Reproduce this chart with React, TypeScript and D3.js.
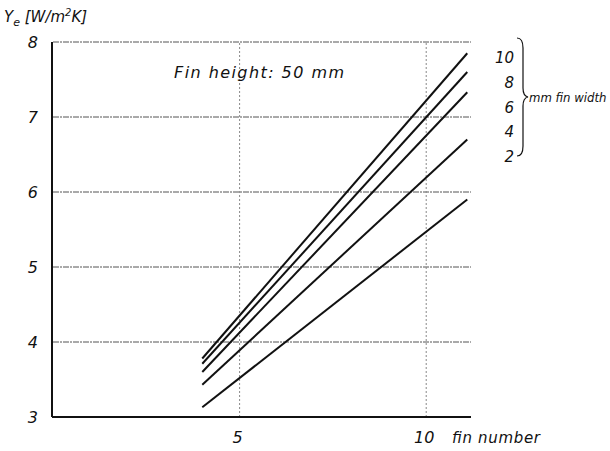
import React from "react";
import * as d3 from "d3";

const finWidths = [10, 8, 6, 4, 2];
const xStart = [4, 4, 4, 4, 4];
const xEnd = [11.1, 11.1, 11.1, 11.1, 11.1];
const yStartVals = [3.78, 3.71, 3.6, 3.43, 3.13];
const yEndVals = [7.85, 7.6, 7.33, 6.7, 5.9];
const yTicks = [3, 4, 5, 6, 7, 8];
const xTicks = [5, 10];
const labelYVals = [7.8, 7.47, 7.13, 6.82, 6.48];

const W = 610, H = 451;

export default function App() {
  const x = d3.scaleLinear().domain([0, 11.2]).range([53, 471]);
  const y = d3.scaleLinear().domain([3, 8]).range([417, 42]);
  const line = d3.line<[number, number]>().x(d => x(d[0])).y(d => y(d[1]));
  const font = "'DejaVu Sans', sans-serif";
  const cfont = "'DejaVu Sans Condensed', 'DejaVu Sans', sans-serif";
  const ink = "#111";
  return (
    <svg width={W} height={H} style={{ position: "absolute", left: 0, top: 0, background: "#fff" }}>
      <rect width={W} height={H} fill="#fff" />
      {yTicks.filter(t => t > 3).map(t => (
        <line key={"h" + t} x1={x(0)} x2={x(11.2)} y1={y(t)} y2={y(t)} stroke="#555" strokeWidth={1} strokeDasharray="6 1 2 1" />
      ))}
      {xTicks.map(t => (
        <line key={"v" + t} x1={x(t)} x2={x(t)} y1={y(3)} y2={y(8)} stroke="#888" strokeWidth={1} strokeDasharray="2 2" />
      ))}
      <line x1={x(0) - 1} x2={x(0) - 1} y1={y(8)} y2={y(3)} stroke={ink} strokeWidth={2} />
      <line x1={x(0) - 1} x2={x(11.2)} y1={y(3)} y2={y(3)} stroke={ink} strokeWidth={2.2} />
      {yTicks.map(t => (
        <text key={"yl" + t} x={38} y={y(t) + 6} fontFamily={font} fontStyle="italic" fontSize={16} fill={ink} textAnchor="end">{t}</text>
      ))}
      {xTicks.map(t => (
        <text key={"xl" + t} x={x(t) - 2} y={443} fontFamily={font} fontStyle="italic" fontSize={16} fill={ink} textAnchor="middle">{t}</text>
      ))}
      <text x={452} y={443} fontFamily={font} fontStyle="italic" fontSize={15} fill={ink} textLength={88} lengthAdjust="spacing">fin number</text>
      <text x={4} y={22} fontFamily={font} fontStyle="italic" fontSize={15} fill={ink}>
        Y<tspan fontSize={11} dy={4}>e</tspan><tspan dy={-4}> [W/m</tspan><tspan fontSize={10} dy={-6}>2</tspan><tspan dy={6}>K]</tspan>
      </text>
      <text x={174} y={78} fontFamily={font} fontStyle="italic" fontSize={16} fill={ink} textLength={170} lengthAdjust="spacing">Fin  height: 50 mm</text>
      {finWidths.map((w, i) => (
        <path key={"l" + w} d={line([[xStart[i], yStartVals[i]], [xEnd[i], yEndVals[i]]]) || ""} fill="none" stroke={ink} strokeWidth={2} />
      ))}
      {finWidths.map((w, i) => (
        <text key={"t" + w} x={514} y={y(labelYVals[i]) + 6} fontFamily={font} fontStyle="italic" fontSize={15} fill={ink} textAnchor="end">{w}</text>
      ))}
      <path d="M517,38 Q523,38 523,48 L523,88 Q523,96 528,97 Q523,98 523,106 L523,146 Q523,156 517,156" fill="none" stroke={ink} strokeWidth={1.2} />
      <text x={529} y={102} fontFamily={cfont} fontStyle="italic" fontSize={13} fill={ink}>mm fin width</text>
    </svg>
  );
}
